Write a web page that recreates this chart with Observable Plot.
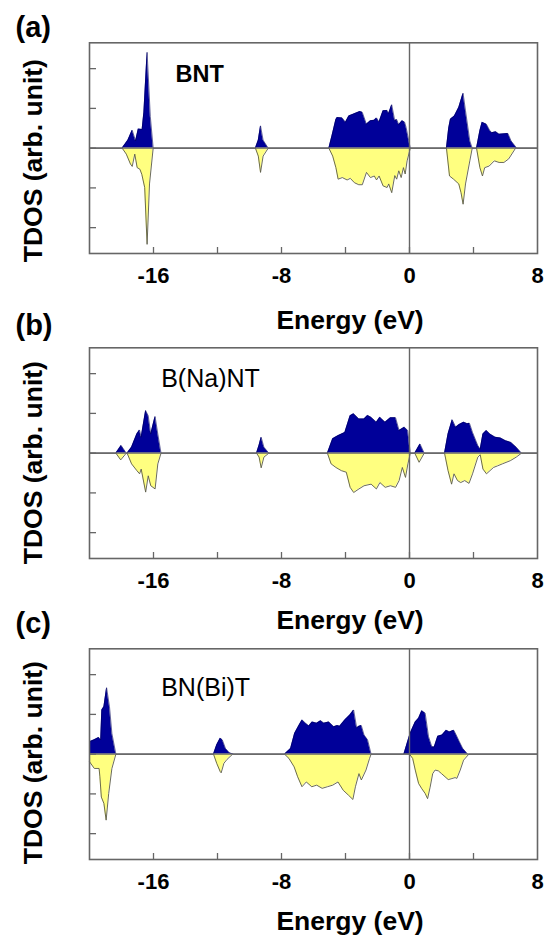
<!DOCTYPE html>
<html>
<head>
<meta charset="utf-8">
<script src="https://cdn.jsdelivr.net/npm/d3@7"></script>
<script src="https://cdn.jsdelivr.net/npm/@observablehq/plot@0.6"></script>
<style>
  body { margin: 0; background: #fff; }
  #chart { position: relative; width: 548px; height: 942px; overflow: hidden; }
  #chart svg { position: absolute; left: 0; overflow: visible; }
</style>
</head>
<body>
<div id="chart"></div>
<script>
// ---------- tick labels / texts ----------
const energyTicks = [-16, -8, 0, 8];
const minorTicks = [-16, -12, -8, -4, 0, 4];
const tdosTicks = [-2, -1, 0, 1, 2];
const panelLabels = ["(a)", "(b)", "(c)"];
const compoundNames = ["BNT", "B(Na)NT", "BN(Bi)T"];
const xTitle = "Energy (eV)";
const yTitle = "TDOS (arb. unit)";

// ---------- data: [energy (eV), TDOS (arb.)] ----------
// (a) BNT
const bntUp = [[-20,0],[-17.96,0],[-17.6,0.2],[-17.33,0.45],[-17.12,0.18],[-16.95,0.48],[-16.71,0.47],[-16.6,0.9],[-16.4,2.41],[-16.2,0.8],[-16.02,0],
  [-9.63,0],[-9.45,0.2],[-9.31,0.56],[-9.15,0.2],[-8.83,0],
  [-5.04,0],[-4.85,0.3],[-4.6,0.72],[-4.52,0.77],[-4.21,0.76],[-4.0,0.65],[-3.79,0.81],[-3.48,0.86],[-3.1,0.92],[-2.95,0.9],[-2.69,0.6],[-2.44,0.69],[-2.2,0.7],[-2.06,0.76],[-1.9,0.66],[-1.65,0.94],[-1.4,0.95],[-1.3,0.87],[-1.11,1.09],[-0.92,0.69],[-0.8,0.72],[-0.67,0.59],[-0.46,0.69],[-0.3,0.65],[-0.21,0.52],[0.05,0],
  [2.31,0],[2.45,0.5],[2.56,0.73],[2.81,0.81],[3.08,1.02],[3.35,1.38],[3.5,0.94],[3.77,0.18],[3.92,0],
  [4.19,0],[4.4,0.44],[4.54,0.65],[4.81,0.6],[5.02,0.44],[5.15,0.39],[5.4,0.41],[5.6,0.35],[6.15,0.37],[6.35,0.18],[6.7,0],[8,0]];
const bntDown = [[-20,0],[-17.96,0],[-17.7,-0.15],[-17.44,-0.40],[-17.33,-0.46],[-17.17,-0.15],[-17.02,-0.49],[-16.85,-0.53],[-16.73,-0.66],[-16.55,-0.99],[-16.4,-2.42],[-16.25,-0.9],[-16.02,0],
  [-9.63,0],[-9.45,-0.2],[-9.31,-0.61],[-9.15,-0.2],[-8.83,0],
  [-5.04,0],[-4.8,-0.2],[-4.6,-0.49],[-4.46,-0.78],[-4.2,-0.74],[-3.9,-0.8],[-3.7,-0.76],[-3.44,-0.87],[-3.17,-0.92],[-2.95,-0.92],[-2.69,-0.61],[-2.44,-0.74],[-2.2,-0.7],[-2.06,-0.8],[-1.9,-0.7],[-1.65,-0.95],[-1.4,-0.99],[-1.3,-0.9],[-1.11,-1.12],[-0.92,-0.69],[-0.8,-0.78],[-0.67,-0.57],[-0.52,-0.74],[-0.38,-0.49],[-0.27,-0.65],[-0.15,-0.32],[0.05,0],
  [2.31,0],[2.5,-0.7],[2.75,-0.78],[3.08,-0.9],[3.22,-1.12],[3.35,-1.41],[3.5,-0.9],[3.77,-0.32],[3.92,0],
  [4.19,0],[4.4,-0.49],[4.56,-0.7],[4.7,-0.49],[4.98,-0.45],[5.3,-0.32],[5.6,-0.36],[5.9,-0.36],[6.2,-0.27],[6.63,0],[8,0]];
// (b) B(Na)NT
const bnaUp = [[-20,0],[-18.35,0],[-18.02,0.19],[-17.7,0],[-17.65,0],[-17.37,0.15],[-17.04,0.48],[-16.87,0.58],[-16.77,0.4],[-16.49,1.07],[-16.33,0.94],[-16.17,0.48],[-15.9,0.92],[-15.73,0.48],[-15.53,0],
  [-9.56,0],[-9.4,0.2],[-9.27,0.40],[-9.1,0.15],[-8.79,0],
  [-5.13,0],[-4.8,0.36],[-4.47,0.44],[-4.04,0.52],[-3.71,0.94],[-3.49,0.99],[-3.16,0.86],[-2.84,0.86],[-2.62,0.95],[-2.4,0.9],[-2.07,0.78],[-1.85,0.9],[-1.52,0.78],[-1.19,0.89],[-0.87,0.89],[-0.65,0.57],[-0.32,0.65],[-0.11,0.57],[0.05,0],
  [0.33,0],[0.66,0.23],[0.92,0],
  [2.19,0],[2.41,0.48],[2.67,0.84],[2.89,0.65],[3.11,0.72],[3.39,0.78],[3.61,0.74],[3.75,0.75],[3.94,0.52],[4.27,0.19],[4.42,0.1],[4.59,0.48],[4.81,0.57],[5.03,0.48],[5.36,0.40],[5.69,0.38],[6.01,0.31],[6.34,0.27],[6.67,0.15],[7.0,0],[8,0]];
const bnaDown = [[-20,0],[-18.35,0],[-18.05,-0.17],[-17.7,0],[-17.65,0],[-17.37,-0.27],[-17.04,-0.44],[-16.87,-0.52],[-16.77,-0.4],[-16.49,-0.98],[-16.33,-0.57],[-16.17,-0.82],[-15.9,-0.90],[-15.73,-0.27],[-15.53,0],
  [-9.56,0],[-9.4,-0.1],[-9.27,-0.37],[-9.1,-0.1],[-8.79,0],
  [-5.13,0],[-4.9,-0.27],[-4.6,-0.36],[-4.26,-0.44],[-3.95,-0.48],[-3.71,-0.86],[-3.49,-0.99],[-3.16,-0.9],[-2.84,-0.82],[-2.4,-0.78],[-2.07,-0.9],[-1.85,-0.74],[-1.52,-0.86],[-1.19,-0.82],[-0.87,-0.86],[-0.65,-0.69],[-0.45,-0.36],[-0.25,-0.61],[-0.1,-0.27],[0.05,0],
  [0.33,0],[0.6,-0.23],[0.92,0],
  [2.19,0],[2.41,-0.44],[2.63,-0.78],[2.78,-0.52],[3.0,-0.69],[3.2,-0.74],[3.45,-0.69],[3.72,-0.76],[3.94,-0.52],[4.27,-0.1],[4.42,-0.04],[4.59,-0.4],[4.81,-0.52],[5.03,-0.44],[5.25,-0.36],[5.5,-0.32],[5.8,-0.27],[6.3,-0.19],[6.67,-0.1],[7.0,0],[8,0]];
// (c) BN(Bi)T
const bbiUp = [[-20,0.31],[-19.7,0.36],[-19.42,0.42],[-19.3,0.36],[-19.23,1.11],[-19.1,1.19],[-18.93,1.67],[-18.75,1.19],[-18.6,0.52],[-18.35,0],
  [-12.25,0],[-12.05,0.23],[-11.83,0.40],[-11.7,0.36],[-11.5,0.14],[-11.25,0.03],[-10.97,0],
  [-7.81,0],[-7.43,0.14],[-7.18,0.52],[-6.9,0.73],[-6.71,0.86],[-6.5,0.78],[-6.29,0.71],[-6.08,0.81],[-5.8,0.78],[-5.55,0.84],[-5.35,0.78],[-5.04,0.81],[-4.73,0.69],[-4.5,0.72],[-4.36,0.70],[-4.04,0.86],[-3.71,0.99],[-3.49,1.11],[-3.3,0.66],[-3.16,0.70],[-3.01,0.72],[-2.84,0.48],[-2.62,0.36],[-2.4,0],
  [-0.35,0],[0.04,0.52],[0.36,0.81],[0.57,0.90],[0.77,1.09],[0.98,1.03],[1.19,0.44],[1.4,0.18],[1.55,0.18],[1.77,0.45],[2.04,0.48],[2.3,0.6],[2.5,0.56],[2.77,0.6],[2.92,0.48],[3.12,0.31],[3.33,0.14],[3.64,0],[8,0]];
const bbiDown = [[-20,-0.19],[-19.7,-0.36],[-19.4,-0.36],[-19.35,-0.57],[-19.26,-1.08],[-19.1,-1.24],[-18.96,-1.66],[-18.8,-0.99],[-18.6,-0.36],[-18.35,0],
  [-12.25,0],[-12.05,-0.23],[-11.83,-0.44],[-11.77,-0.47],[-11.6,-0.23],[-11.4,-0.13],[-11.05,0],
  [-7.81,0],[-7.53,-0.11],[-7.21,-0.32],[-6.99,-0.57],[-6.72,-0.82],[-6.45,-0.70],[-6.11,-0.82],[-5.8,-0.78],[-5.46,-0.86],[-5.13,-0.82],[-4.8,-0.78],[-4.47,-0.70],[-4.14,-0.91],[-3.82,-1.03],[-3.54,-1.14],[-3.38,-0.82],[-3.16,-0.49],[-3.01,-0.65],[-2.72,-0.40],[-2.5,-0.11],[-2.4,0],
  [0,0],[0.2,-0.11],[0.36,-0.40],[0.57,-0.74],[0.77,-0.87],[0.98,-0.99],[1.13,-1.12],[1.29,-0.83],[1.45,-0.49],[1.6,-0.4],[1.8,-0.42],[2.0,-0.49],[2.42,-0.64],[2.6,-0.62],[2.85,-0.59],[2.96,-0.61],[3.17,-0.4],[3.38,-0.15],[3.71,0],[8,0]];

// ---------- drawing ----------
const FONT = "'Liberation Sans', Arial, Helvetica, sans-serif";
const BLUE = "#000099", YELLOW = "#ffff80", OUTLINE = "#5a5a46", AXIS = "#666666";
const FRAME_W = 448, FRAME_H = 210.7, M_TOP = 42.3, M_LEFT = 89, M_BOTTOM = 95;

const panels = [
  {top: 0,   up: bntUp, down: bntDown, label: panelLabels[0], name: compoundNames[0], nameBold: true,  nameSize: 23.5, nameDx: 86,   nameDy: 39.4, labelDy: -6.3,  yTitleDy: 12.5, xTitleDy: 75},
  {top: 305, up: bnaUp, down: bnaDown, label: panelLabels[1], name: compoundNames[1], nameBold: false, nameSize: 25,   nameDx: 71.7, nameDy: 39.4, labelDy: -13.3, yTitleDy: 9.5,  xTitleDy: 70},
  {top: 606, up: bbiUp, down: bbiDown, label: panelLabels[2], name: compoundNames[2], nameBold: false, nameSize: 25,   nameDx: 71.7, nameDy: 46.7, labelDy: -16.3, yTitleDy: 8.5,  xTitleDy: 70}
];

const chart = document.getElementById("chart");
for (const p of panels) {
  const svg = Plot.plot({
    width: 548,
    height: M_TOP + FRAME_H + M_BOTTOM,
    marginTop: M_TOP, marginLeft: M_LEFT, marginRight: 548 - M_LEFT - FRAME_W, marginBottom: M_BOTTOM,
    style: {background: "transparent", fontFamily: FONT, fontSize: "22px", fontWeight: "bold", color: "#000", overflow: "visible"},
    x: {domain: [-20, 8], ticks: energyTicks, tickSize: 0, tickPadding: 14, tickFormat: d => String(d), label: null},
    y: {domain: [-2.65, 2.65], axis: null},
    marks: [
      Plot.areaY(p.up, {x: d => d[0], y: d => d[1], fill: BLUE}),
      Plot.areaY(p.down, {x: d => d[0], y: d => d[1], fill: YELLOW}),
      Plot.lineY(p.up, {x: d => d[0], y: d => d[1], stroke: "#00005a", strokeWidth: 0.6}),
      Plot.lineY(p.down, {x: d => d[0], y: d => d[1], stroke: OUTLINE, strokeWidth: 0.9}),
      Plot.ruleY([0], {stroke: AXIS, strokeWidth: 1.4}),
      Plot.ruleX([0], {stroke: AXIS, strokeWidth: 1.4}),
      Plot.tickX(minorTicks, {x: d => d, insetTop: FRAME_H - 6, stroke: AXIS, strokeWidth: 1.3}),
      Plot.tickY(tdosTicks, {y: d => d, insetRight: FRAME_W - 7, stroke: AXIS, strokeWidth: 1.3}),
      Plot.frame({stroke: AXIS, strokeWidth: 1.6}),
      Plot.text([p.name], {frameAnchor: "top-left", dx: p.nameDx, dy: p.nameDy, text: d => d, textAnchor: "start", lineAnchor: "bottom",
        fontSize: p.nameSize, fontWeight: p.nameBold ? "bold" : "normal", fill: "#000"}),
      Plot.text([p.label], {frameAnchor: "top-left", dx: 15 - M_LEFT, dy: p.labelDy, text: d => d, textAnchor: "start", lineAnchor: "bottom",
        fontSize: 29, fontWeight: "bold", fill: "#000"}),
      Plot.text([yTitle], {frameAnchor: "left", dx: 41.5 - M_LEFT, dy: p.yTitleDy, text: d => d, rotate: -90, textAnchor: "middle", lineAnchor: "bottom",
        fontSize: 26.5, fontWeight: "bold", fill: "#000"}),
      Plot.text([xTitle], {frameAnchor: "bottom", dx: 349.5 - (M_LEFT + FRAME_W / 2), dy: p.xTitleDy, text: d => d, textAnchor: "middle", lineAnchor: "bottom",
        fontSize: 26.5, fontWeight: "bold", fill: "#000"})
    ]
  });
  svg.style.top = p.top + "px";
  chart.appendChild(svg);
}
</script>
</body>
</html>
